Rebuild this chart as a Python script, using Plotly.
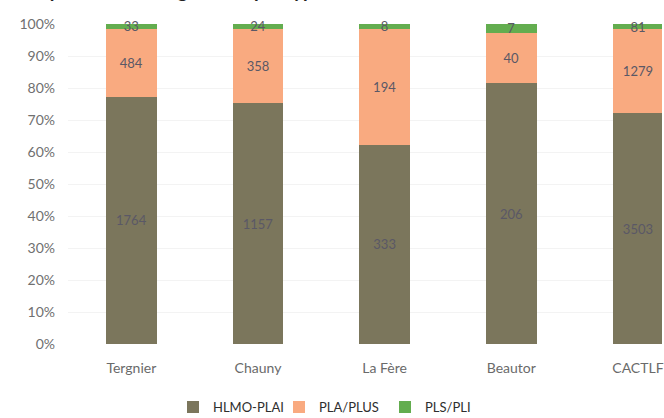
import plotly.graph_objects as go

# Logements par commune et par type de financement
communes = ["Tergnier", "Chauny", "La Fère", "Beautor", "CACTLF"]
hlmo_plai = [1764, 1157, 333, 206, 3503]
pla_plus = [484, 358, 194, 40, 1279]
pls_pli = [33, 24, 8, 7, 81]

series = [
    ("HLMO-PLAI", hlmo_plai, "#7b765c"),
    ("PLA/PLUS", pla_plus, "#f9aa80"),
    ("PLS/PLI", pls_pli, "#63ad4f"),
]

fig = go.Figure()
for name, vals, color in series:
    fig.add_trace(go.Bar(
        name=name,
        x=communes,
        y=vals,
        marker=dict(color=color, line=dict(width=0)),
        text=[str(v) for v in vals],
        textposition="inside",
        insidetextanchor="middle",
        textangle=0,
        constraintext="none",
        cliponaxis=False,
        textfont=dict(family="Lato", size=13, color="#5a5866"),
        hoverinfo="skip",
    ))

fig.update_layout(
    barmode="stack",
    barnorm="percent",
    bargap=0.6,
    width=664,
    height=418,
    margin=dict(l=68, r=0, t=24, b=74),
    paper_bgcolor="white",
    plot_bgcolor="white",
    font=dict(family="Lato", size=13, color="#6e6e6e"),
    showlegend=True,
    legend=dict(
        orientation="h",
        xref="container", x=0.5, xanchor="center",
        yref="container", y=0.026, yanchor="middle",
        font=dict(family="Lato", size=13, color="#2e2e2e"),
        itemwidth=30,
        entrywidth=61,
        entrywidthmode="pixels",
        traceorder="normal",
    ),
    annotations=[dict(
        text="<b>Répartition des logements par type de financement</b>",
        xref="paper", yref="paper",
        x=-0.07, xanchor="left",
        y=1.062, yanchor="bottom",
        showarrow=False,
        font=dict(family="Lato", size=19, color="#222222"),
    )],
)

fig.update_xaxes(
    type="category",
    range=[-0.5, 4.19],
    showgrid=False,
    showline=False,
    ticks="",
    ticklabelstandoff=14,
    tickfont=dict(family="Lato", size=14, color="#6a6a6a"),
)

fig.update_yaxes(
    range=[0, 100],
    tickvals=[0, 10, 20, 30, 40, 50, 60, 70, 80, 90, 100],
    ticktext=["0%", "10%", "20%", "30%", "40%", "50%", "60%", "70%", "80%", "90%", "100%"],
    showgrid=True,
    gridcolor="#f3f3f3",
    zeroline=False,
    showline=False,
    ticks="",
    ticklabelstandoff=12,
    tickfont=dict(family="Lato", size=14, color="#707070"),
)

fig.write_html("out.html")
